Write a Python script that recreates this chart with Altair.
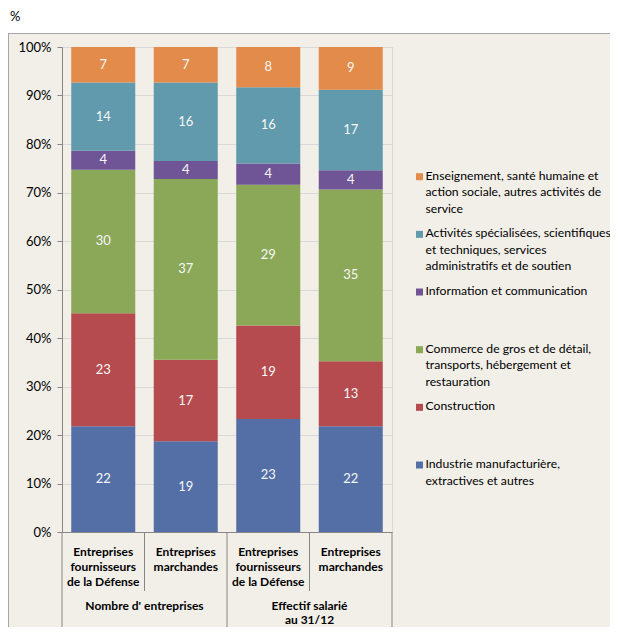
import altair as alt
import pandas as pd

# ---- data ----
ids = ["c1", "c2", "c3", "c4"]
cat_labels = [
    "Entreprises\nfournisseurs\nde la Défense",
    "Entreprises\nmarchandes",
    "Entreprises\nfournisseurs\nde la Défense",
    "Entreprises\nmarchandes",
]
group_labels = ["Nombre d' entreprises", "Effectif salarié\nau 31/12"]
group_anchor = ["c1", "c3"]

sectors = [
    "Industrie manufacturière, extractives et autres",
    "Construction",
    "Commerce de gros et de détail, transports, hébergement et restauration",
    "Information et communication",
    "Activités spécialisées, scientifiques et techniques, services administratifs et de soutien",
    "Enseignement, santé humaine et action sociale, autres activités de service",
]
legend_text = [
    "Industrie manufacturière,\nextractives et autres",
    "Construction",
    "Commerce de gros et de détail,\ntransports, hébergement et\nrestauration",
    "Information et communication",
    "Activités spécialisées, scientifiques\net techniques, services\nadministratifs et de soutien",
    "Enseignement, santé humaine et\naction sociale, autres activités de\nservice",
]
colors = ["#536FA6", "#B54B4E", "#8AA857", "#705596", "#619AAD", "#E38B4A"]

industrie = [21.8, 18.7, 23.3, 21.8]
construction = [23.3, 16.8, 19.3, 13.4]
commerce = [29.6, 37.3, 29.0, 35.4]
information = [3.9, 3.7, 4.4, 4.0]
activites = [14.1, 16.2, 15.7, 16.6]
enseignement = [7.3, 7.3, 8.3, 8.8]
series = [industrie, construction, commerce, information, activites, enseignement]

y_ticks = [0, 10, 20, 30, 40, 50, 60, 70, 80, 90, 100]

rows = []
for k, (s, vals) in enumerate(zip(sectors, series)):
    for i, v in zip(ids, vals):
        rows.append({"id": i, "sector": s, "order": k, "value": v})
df = pd.DataFrame(rows)

df_cat = pd.DataFrame({"id": ids, "label": cat_labels})
df_grp = pd.DataFrame({"id": group_anchor, "label": group_labels})
df_leg = pd.DataFrame({"sector": sectors, "label": legend_text})
one = pd.DataFrame({"k": [0]})

FONT = "Lato"
W, H = 330, 485
BG = "#F2EFE9"
AXC = "#868686"

xs = alt.Scale(domain=ids, paddingInner=0, paddingOuter=0)
ys = alt.Scale(domain=[0, 100], nice=False)
cs = alt.Scale(domain=sectors, range=colors)

base = alt.Chart(df).transform_stack(
    stack="value", groupby=["id"], as_=["v0", "v1"],
    sort=[alt.SortField("order", order="ascending")]
).transform_calculate(mid="(datum.v0 + datum.v1) / 2")

bars = base.mark_bar(width=alt.RelativeBandSize(0.776)).encode(
    x=alt.X("id:N", scale=xs, title=None,
            axis=alt.Axis(labels=False, ticks=False, domain=True, domainColor=AXC, grid=False)),
    y=alt.Y("v0:Q", scale=ys, title=None,
            axis=alt.Axis(values=y_ticks, labelExpr="datum.value + '%'", labelFont=FONT,
                          labelFontSize=13, labelColor="#000000", labelPadding=6,
                          tickSize=5, tickColor=AXC, domainColor=AXC,
                          gridColor="#d9d9d9")),
    y2="v1:Q",
    color=alt.Color("sector:N", scale=cs, legend=None),
)

vals = base.mark_text(font=FONT, fontSize=13, color="#f7f7f7", baseline="middle").encode(
    x=alt.X("id:N", scale=xs),
    y=alt.Y("mid:Q", scale=ys, axis=None),
    text=alt.Text("value:Q", format=".0f"),
)

# category labels
cats = alt.Chart(df_cat).mark_text(font=FONT, fontSize=12, fontWeight="bold", baseline="top",
                                   lineBreak="\n", lineHeight=15, color="#000000").encode(
    x=alt.X("id:N", scale=xs), y=alt.value(H + 15), text="label:N")

grps = alt.Chart(df_grp).mark_text(font=FONT, fontSize=12, fontWeight="bold", baseline="top",
                                   lineBreak="\n", lineHeight=14, color="#000000").encode(
    x=alt.X("id:N", scale=xs, bandPosition=1), y=alt.value(H + 69), text="label:N")

# separators
sep_long = alt.Chart(pd.DataFrame({"id": ["c1", "c3"]})).mark_rule(color=AXC).encode(
    x=alt.X("id:N", scale=xs, bandPosition=0), y=alt.value(H), y2=alt.value(H + 110))
sep_short = alt.Chart(pd.DataFrame({"id": ["c2", "c4"]})).mark_rule(color=AXC).encode(
    x=alt.X("id:N", scale=xs, bandPosition=0), y=alt.value(H), y2=alt.value(H + 59))
sep_end = alt.Chart(pd.DataFrame({"id": ["c4"]})).mark_rule(color=AXC).encode(
    x=alt.X("id:N", scale=xs, bandPosition=1), y=alt.value(H), y2=alt.value(H + 110))

# white band above frame, frame lines, "%" unit
white = alt.Chart(one).mark_rect(color="#ffffff").encode(
    x=alt.value(-60), x2=alt.value(600), y=alt.value(-45), y2=alt.value(-14))
frame_top = alt.Chart(one).mark_rule(color="#a6a6a6").encode(
    x=alt.value(-54), x2=alt.value(600), y=alt.value(-13.5))
frame_left = alt.Chart(one).mark_rule(color="#a6a6a6").encode(
    x=alt.value(-53.5), y=alt.value(-13.5), y2=alt.value(620))
unit = alt.Chart(one).mark_text(text="%", font=FONT, fontSize=13, align="left",
                                baseline="middle", color="#000000").encode(
    x=alt.value(-52), y=alt.value(-30))

# legend
ly = alt.Y("sector:N", axis=None,
           scale=alt.Scale(type="point", domain=sectors[::-1], range=[129.7, 418], padding=0))
leg_sq = alt.Chart(df_leg).mark_square(size=49, opacity=1).encode(
    x=alt.value(357.5), y=ly, color=alt.Color("sector:N", scale=cs, legend=None))
leg_tx = alt.Chart(df_leg).mark_text(font=FONT, fontSize=12.2, align="left", baseline="line-top",
                                     lineBreak="\n", lineHeight=16.5, dy=-9,
                                     color="#000000").encode(
    x=alt.value(363.5), y=ly, text="label:N")

chart = alt.layer(
    white, frame_top, frame_left, unit,
    bars, vals, cats, grps, sep_long, sep_short, sep_end, leg_sq, leg_tx
).resolve_scale(y="independent").properties(
    width=W, height=H, autosize="none",
    padding={"left": 54, "top": 39, "right": 218, "bottom": 95},
).configure(background=BG).configure_view(stroke="#d9d9d9")

chart.save("out.html", embed_options={"renderer": "svg", "actions": False})
